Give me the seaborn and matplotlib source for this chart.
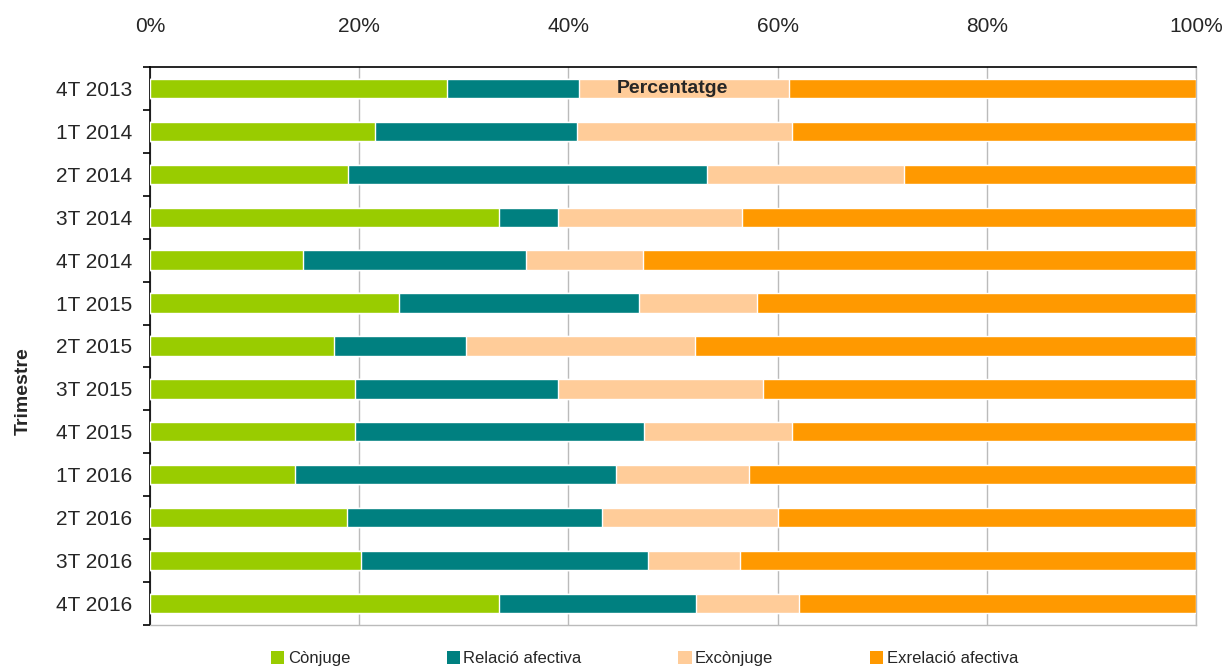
import numpy as np
import pandas as pd
import matplotlib
matplotlib.use("Agg")
import matplotlib.pyplot as plt
import seaborn as sns
from matplotlib.patches import Patch

categories = ["4T 2013", "1T 2014", "2T 2014", "3T 2014", "4T 2014", "1T 2015", "2T 2015",
              "3T 2015", "4T 2015", "1T 2016", "2T 2016", "3T 2016", "4T 2016"]
conjuge = [28.4, 21.5, 18.9, 33.4, 14.6, 23.8, 17.6, 19.6, 19.6, 13.9, 18.8, 20.2, 33.4]
relacio = [12.6, 19.3, 34.3, 5.6, 21.3, 22.9, 12.6, 19.4, 27.6, 30.6, 24.4, 27.4, 18.8]
exconjuge = [20.1, 20.6, 18.9, 17.6, 11.2, 11.3, 21.9, 19.6, 14.2, 12.8, 16.8, 8.8, 9.8]
exrelacio = [38.9, 38.6, 27.9, 43.4, 52.9, 42.0, 47.9, 41.4, 38.6, 42.7, 40.0, 43.6, 38.0]
series_names = ["Cònjuge", "Relació afectiva", "Excònjuge", "Exrelació afectiva"]
colors = ["#99CC00", "#008080", "#FFCC99", "#FF9900"]
xticks = [0, 20, 40, 60, 80, 100]
xticklabels = ["0%", "20%", "40%", "60%", "80%", "100%"]

sns.set_style("white")
plt.rcParams["font.family"] = ["Liberation Sans", "DejaVu Sans"]

df = pd.DataFrame({"cat": categories, "a": conjuge, "b": relacio, "c": exconjuge, "d": exrelacio})
cum = df[["a", "b", "c", "d"]].cumsum(axis=1)

fig = plt.figure(figsize=(12.23, 6.70), dpi=100)
ax = fig.add_axes([0.1227, 0.0672, 0.978 - 0.1227, 0.9 - 0.0672])

for col, color in zip(["d", "c", "b", "a"], colors[::-1]):
    sns.barplot(x=cum[col], y=df["cat"], color=color, orient="h", width=0.45,
                saturation=1, ax=ax, zorder=3)

ax.set_xlim(0, 100)
ax.set_ylim(len(categories) - 0.5, -0.5)
ax.xaxis.tick_top()
ax.set_xticks(xticks)
ax.set_xticklabels(xticklabels, fontsize=15)
ax.tick_params(axis="x", length=0, pad=22)
ax.grid(axis="x", color="#BBBBBB", linewidth=1, zorder=0)
ax.set_axisbelow(True)
ax.set_yticks(range(len(categories)))
ax.set_yticklabels(categories, fontsize=15)
ax.tick_params(axis="y", which="major", left=False, length=0, pad=13)
ax.set_yticks(np.arange(-0.5, len(categories), 1), minor=True)
ax.tick_params(axis="y", which="minor", left=True, length=5, width=1.2, color="black",
               direction="out")
ax.set_xlabel("")
ax.set_ylabel("Trimestre", fontsize=14, fontweight="bold")
ax.yaxis.set_label_coords(-0.113, 0.42)

for s in ["left", "top"]:
    ax.spines[s].set_visible(True)
    ax.spines[s].set_color("black")
    ax.spines[s].set_linewidth(1.2)
for s in ["right", "bottom"]:
    ax.spines[s].set_visible(True)
    ax.spines[s].set_color("#BBBBBB")
    ax.spines[s].set_linewidth(1)

ax.text(49.9, 0, "Percentatge", ha="center", va="center",
        fontsize=14, fontweight="bold", zorder=5)

handles = [Patch(facecolor=c, edgecolor="none") for c in colors]
fig.legend(handles, series_names, loc="center", bbox_to_anchor=(0.527, 0.017), ncol=4,
           frameon=False, fontsize=12, handlelength=0.8, handleheight=0.8,
           handletextpad=0.2, columnspacing=5.8)

fig.savefig("out.png", dpi=100)
